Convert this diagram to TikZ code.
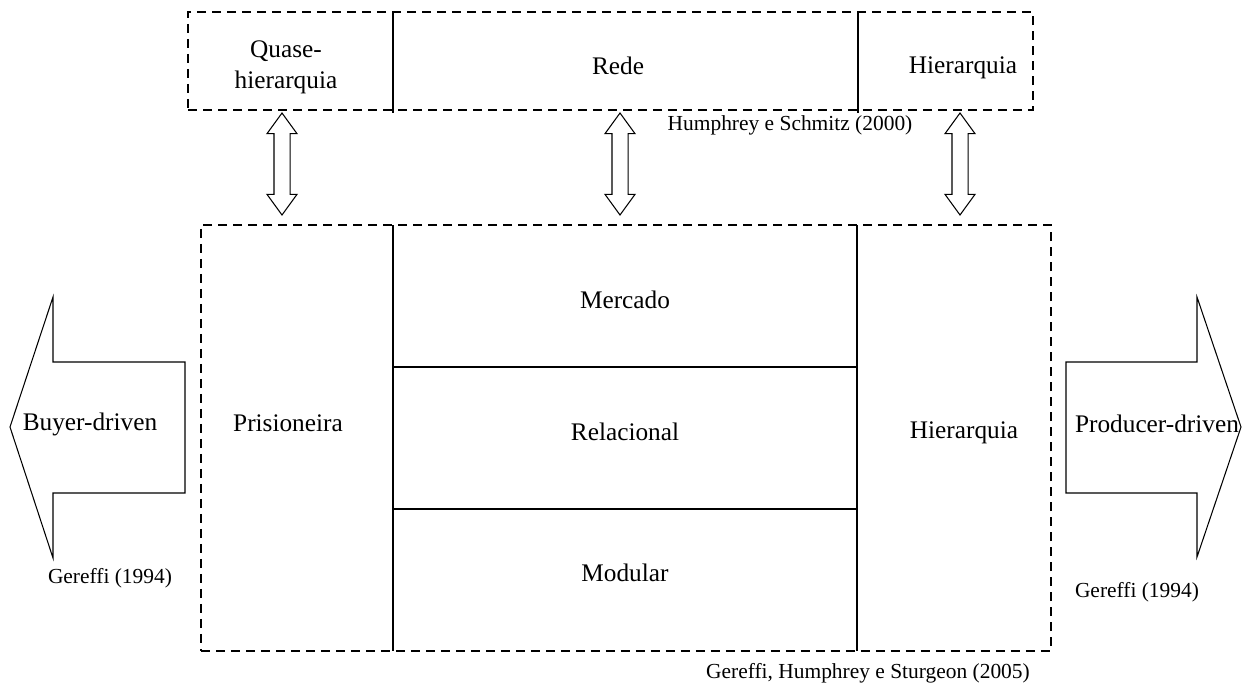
\documentclass[tikz,border=0pt]{standalone}
\usepackage{fontspec}
\setmainfont{Liberation Serif}
\usetikzlibrary{shapes.arrows}

\tikzset{
  govbox/.style={draw, dash pattern=on 0.18cm off 0.12cm, line width=1.4pt, inner sep=0pt},
  cell/.style={font=\fontsize{14.4}{17.6}\selectfont, align=center, inner sep=0pt},
  source/.style={font=\fontsize{12.2}{14}\selectfont, inner sep=0pt},
  linkarrow/.style={draw, shape=double arrow, rotate=90, minimum height=2.04cm,
    minimum width=0.58cm, double arrow head extend=0.14cm,
    double arrow tip angle=72, inner xsep=0pt, inner ysep=0.15cm, line width=0.6pt},
  drive/.style={draw, line width=0.6pt},
  divider/.style={line width=0.6pt}
}

\begin{document}
\begin{tikzpicture}[x=0.02cm, y=-0.02cm]
  \useasboundingbox (0,0) rectangle (1247,684);

  % Humphrey e Schmitz (2000)
  \draw[divider] (393,12) -- (393,113);
  \draw[divider] (858,12) -- (858,113);
  \node[govbox, minimum width=16.9cm, minimum height=1.96cm] (hs) at (610.5,61) {};
  \node[cell] (quase) at (286,67) {Quase-\\hierarquia};
  \node[cell] (rede) at (618,66) {Rede};
  \node[cell] (hierhs) at (963,68) {Hierarquia};
  \node[source] (hsref) at (790,125) {Humphrey e Schmitz (2000)};

  % Gereffi, Humphrey e Sturgeon (2005)
  \draw[divider] (393,225) -- (393,651);
  \draw[divider] (857,225) -- (857,651);
  \draw[divider] (393,367) -- (857,367);
  \draw[divider] (393,509) -- (857,509);
  \node[govbox, minimum width=17cm, minimum height=8.52cm] (ghs) at (626,438) {};
  \node[cell] (prisioneira) at (288,423) {Prisioneira};
  \node[cell] (mercado) at (625,300) {Mercado};
  \node[cell] (relacional) at (625,432) {Relacional};
  \node[cell] (modular) at (625,573) {Modular};
  \node[cell] (hierghs) at (964,433) {Hierarquia};
  \node[source] (ghsref) at (868,673) {Gereffi, Humphrey e Sturgeon (2005)};

  % links between the two typologies
  \node[linkarrow] (linkq) at (282,164) {};
  \node[linkarrow] (linkr) at (620,164) {};
  \node[linkarrow] (linkh) at (960,164) {};

  % Gereffi (1994)
  \draw[drive] (185,362) -- (53,362) -- (53,297) -- (10,427) -- (53,558)
    -- (53,493) -- (185,493) -- cycle;
  \node[cell] (buyer) at (90,424) {Buyer-driven};
  \node[source] (gbuyer) at (110,578) {Gereffi (1994)};
  \draw[drive] (1066,362) -- (1197,362) -- (1197,297) -- (1241,427) -- (1197,557)
    -- (1197,493) -- (1066,493) -- cycle;
  \node[cell] (producer) at (1157,424) {Producer-driven};
  \node[source] (gproducer) at (1137,592) {Gereffi (1994)};
\end{tikzpicture}
\end{document}
